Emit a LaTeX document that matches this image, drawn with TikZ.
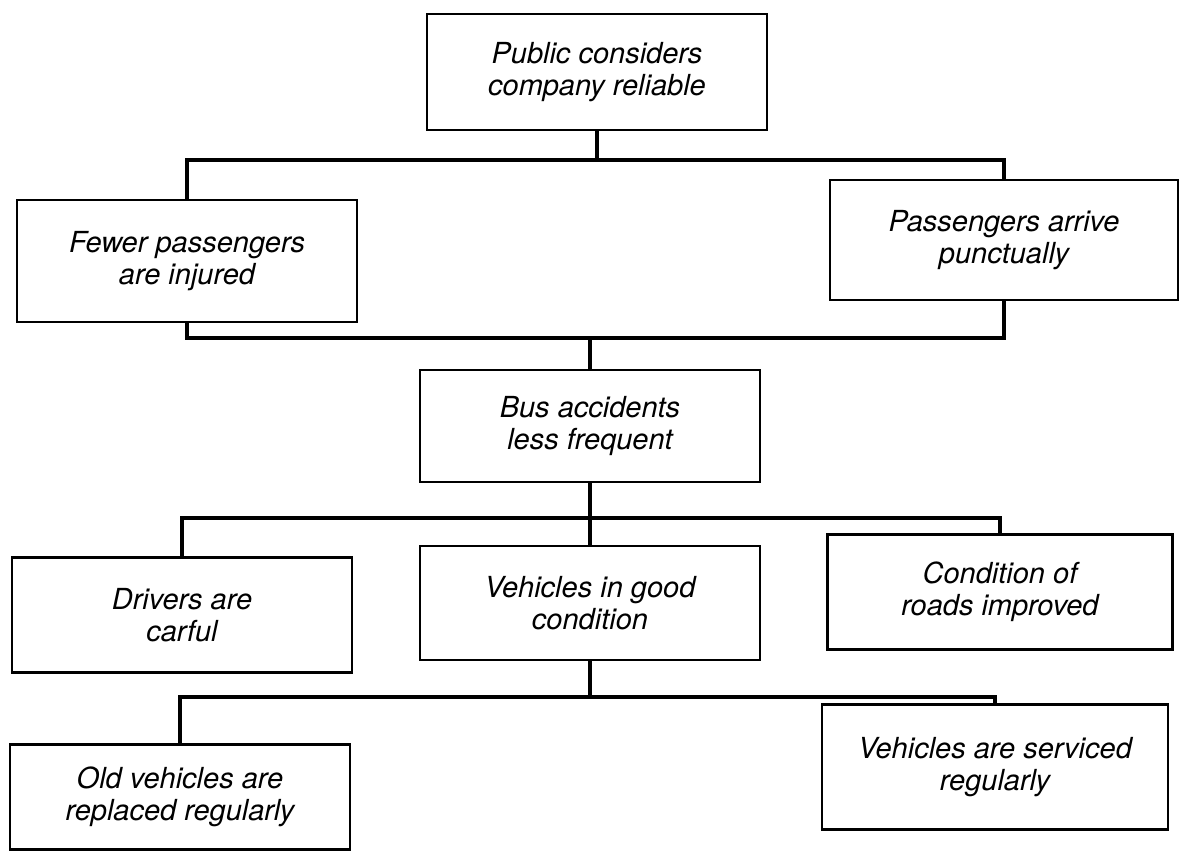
\documentclass[tikz,border=0pt]{standalone}
\usepackage{fontspec}
\setmainfont{TeX Gyre Heros}
\usepackage{tikz}
\tikzset{box/.style={draw,line width=1.5pt,align=center,inner sep=0pt,
    minimum width=6.8cm,minimum height=2.3cm,
    font=\fontsize{16.5}{18}\selectfont\itshape},
  link/.style={line width=1.8pt}}

\begin{document}
\begin{tikzpicture}[x=0.02cm,y=-0.02cm]
            \useasboundingbox (0,0) rectangle (1188,856);
            \node[box,minimum height=2.32cm] (top) at (597,72) {Public considers\\company reliable};
            \node[box,minimum height=2.44cm] (fewer) at (187,261) {Fewer passengers\\are injured};
            \node[box,minimum width=6.96cm,minimum height=2.4cm] (pass) at (1004,240) {Passengers arrive\\punctually};
            \node[box,minimum height=2.24cm] (bus) at (590,426) {Bus accidents\\less frequent};
            \node[box] (drivers) at (182,615) {Drivers are\\carful};
            \node[box,minimum height=2.28cm] (vgood) at (590,603) {Vehicles in good\\condition};
            \node[box,minimum width=6.9cm] (cond) at (1000,592) {Condition of\\roads improved};
            \node[box,minimum height=2.1cm] (old) at (180,797) {Old vehicles are\\replaced regularly};
            \node[box,minimum width=6.92cm,minimum height=2.5cm] (serv) at (995,767) {Vehicles are serviced\\regularly};
            \coordinate (j1) at (597,160);
            \coordinate (j2) at (590,338);
            \coordinate (j3) at (590,518);
            \coordinate (j4) at (590,697);
            \draw[link] (top.south) -- (j1);
            \draw[link] (fewer.north) |- (j1) -| (pass.north);
            \draw[link] (fewer.south) |- (j2) -| (pass.south);
            \draw[link] (j2) -- (bus.north);
            \draw[link] (bus.south) -- (j3);
            \draw[link] (drivers.north) |- (j3) -| (cond.north);
            \draw[link] (j3) -- (vgood.north);
            \draw[link] (vgood.south) -- (j4);
            \draw[link] (old.north) |- (j4) -| (serv.north);
        \end{tikzpicture}
\end{document}
